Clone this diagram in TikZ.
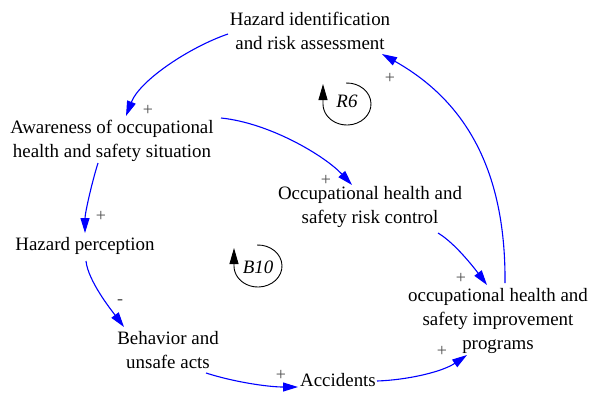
\documentclass[tikz,border=0pt]{standalone}
\usepackage{fontspec}
\setmainfont{Liberation Serif}
\usetikzlibrary{arrows.meta,calc}
\begin{document}
\begin{tikzpicture}[x=1bp,y=-1bp,
  var/.style={font=\fontsize{19}{24}\selectfont, align=center, inner sep=0pt},
  link/.style={draw=blue, line width=1.1bp, -{Triangle[length=15bp,width=9bp]}},
  sign/.style={font=\fontsize{18}{18}\selectfont, text=black!70, inner sep=0pt},
  looplbl/.style={font=\fontsize{19}{19}\selectfont\itshape, inner sep=0pt},
  loopmark/.style={draw=black, line width=0.9bp, -{Triangle[length=16bp,width=9bp]}}]
\useasboundingbox (0,0) rectangle (590,396);
\fill[white] (0,0) rectangle (590,396);

% variables
\node[var] (hz) at (310,31) {Hazard identification\\and risk assessment};
\node[var] (aw) at (112,141) {Awareness of occupational\\health and safety situation};
\node[var] (rc) at (370,207) {Occupational health and\\safety risk control};
\node[var] (hp) at (85,246) {Hazard perception};
\node[var] (bh) at (168,350) {Behavior and\\unsafe acts};
\node[var] (ac) at (338,380) {Accidents};
\node[var] (pg) at (498,321) {occupational health and\\safety improvement\\programs};

% causal links
\draw[link] ($(hz)+(-82,3)$) .. controls +(-38,13) and +(14,-36) .. ($(aw)+(14,-25)$);
\draw[link] ($(aw)+(109,-23)$) .. controls +(49,5) and +(-27,-29) .. ($(rc)+(-18,-22)$);
\draw[link] ($(aw)+(-14,22)$) .. controls +(-6,19) and +(0,-20) .. ($(hp)+(0,-13)$);
\draw[link] ($(hp)+(1,15)$) .. controls +(2,20) and +(-12,-16) .. ($(bh)+(-44,-23)$);
\draw[link] ($(bh)+(38,23)$) .. controls +(28,9) and +(-30,0) .. ($(ac)+(-40,7)$);
\draw[link] ($(ac)+(39,1)$) .. controls +(30,-1) and +(-25,17) .. ($(pg)+(-31,34)$);
\draw[link] ($(rc)+(68,26)$) .. controls +(17,10) and +(-12,-16) .. ($(pg)+(-11,-36)$);
\draw[link] ($(pg)+(7,-38)$) .. controls +(1,-120) and +(78,44) .. ($(hz)+(72,23)$);

% link polarities
\node[sign] (s1) at (148,110) {+};
\node[sign] (s2) at (326,180) {+};
\node[sign] (s3) at (101,216) {+};
\node[sign] (s4) at (120,302) {-};
\node[sign] (s5) at (281,375) {+};
\node[sign] (s6) at (442,351) {+};
\node[sign] (s7) at (461,278) {+};
\node[sign] (s8) at (390,78) {+};

% loop identifiers
\node[looplbl] (r6) at (347,101) {R6};
\coordinate (r6c) at ($(r6)+(0,3)$);
\draw[loopmark] ($(r6c)+(268:24 and 21)$) arc[start angle=268, end angle=540, x radius=24, y radius=21] -- ++(0,-20);

\node[looplbl] (b10) at (258,267) {B10};
\coordinate (b10c) at ($(b10)+(0,-1)$);
\draw[loopmark] ($(b10c)+(268:24 and 21)$) arc[start angle=268, end angle=540, x radius=24, y radius=21] -- ++(0,-18);
\end{tikzpicture}
\end{document}
